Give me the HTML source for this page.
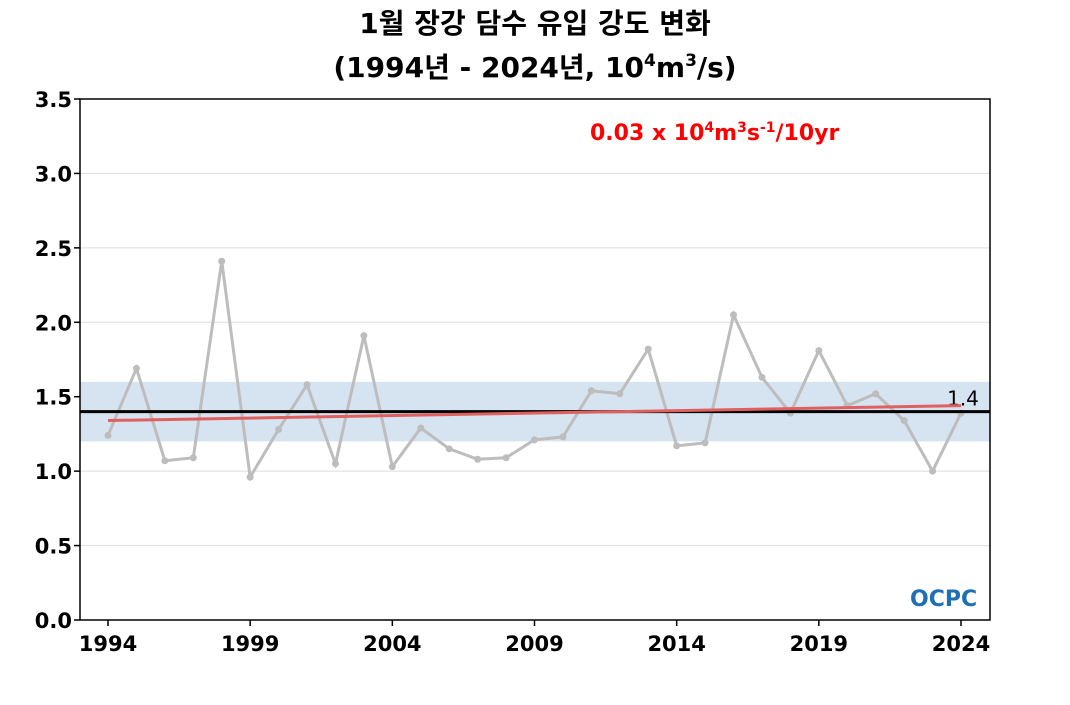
<!DOCTYPE html>
<html><head><meta charset="utf-8"><style>
body{margin:0;background:#fff;width:1070px;height:700px;overflow:hidden}
svg{font-family:"DejaVu Sans","Liberation Sans","Noto Sans CJK KR",sans-serif}
</style></head><body>
<svg id="c" width="1070" height="700"></svg>
<script>
const years=[1994,1995,1996,1997,1998,1999,2000,2001,2002,2003,2004,2005,2006,2007,2008,2009,2010,2011,2012,2013,2014,2015,2016,2017,2018,2019,2020,2021,2022,2023,2024];
const values=[1.24,1.69,1.07,1.09,2.41,0.96,1.28,1.58,1.05,1.91,1.03,1.29,1.15,1.08,1.09,1.21,1.23,1.54,1.52,1.82,1.17,1.19,2.05,1.63,1.39,1.81,1.44,1.52,1.34,1.00,1.39];
const yTicks=[0,0.5,1,1.5,2,2.5,3,3.5];
const xTicks=[1994,1999,2004,2009,2014,2019,2024];
const meanVal=[1.4];
const band=[1.2,1.6];
const trend=[1.34,1.44];
const NS="http://www.w3.org/2000/svg";
const svg=document.getElementById('c');
const L=80,R=990,T=99,B=620;
const x=v=>108+(v-1994)*(961-108)/30;
const y=v=>B-(v/3.5)*(B-T);
function mk(t,a,p){const e=document.createElementNS(NS,t);for(const k in a)e.setAttribute(k,a[k]);(p||svg).appendChild(e);return e;}
let t1=mk('text',{x:535,y:33,'text-anchor':'middle','font-size':28,'font-weight':'bold'});t1.textContent='1월 장강 담수 유입 강도 변화';


let t2=mk('text',{x:535,y:77,'text-anchor':'middle','font-size':28,'font-weight':'bold'});
t2.innerHTML='(1994년 - 2024년, 10<tspan dy="-11" font-size="17">4</tspan><tspan dy="11">m</tspan><tspan dy="-11" font-size="17">3</tspan><tspan dy="11">/s)</tspan>';


yTicks.forEach(v=>{
 if(v>0&&v<3.5){const g=mk('line',{x1:L,x2:R,y1:y(v),y2:y(v),stroke:'#ddd','stroke-width':1});
 
 }
 mk('line',{x1:L-6,x2:L,y1:y(v),y2:y(v),stroke:'#000','stroke-width':1.5});
 const tx=mk('text',{x:L-8,y:y(v)+8,'text-anchor':'end','font-size':21,'font-weight':'bold'});tx.textContent=v.toFixed(1);
 
 
});
xTicks.forEach(v=>{
 mk('line',{x1:x(v),x2:x(v),y1:B,y2:B+6,stroke:'#000','stroke-width':1.5});
 const tx=mk('text',{x:x(v),y:B+31,'text-anchor':'middle','font-size':21,'font-weight':'bold'});tx.textContent=v;
 
 
});
const bd=mk('rect',{x:L,y:y(band[1]),width:R-L,height:y(band[0])-y(band[1]),fill:'#d6e3f0'});


const pl=mk('polyline',{points:years.map((yr,i)=>x(yr)+','+y(values[i])).join(' '),fill:'none',stroke:'#bdbdbd','stroke-width':3});


years.forEach((yr,i)=>{const c=mk('circle',{cx:x(yr),cy:y(values[i]),r:3.5,fill:'#bdbdbd'});
 
 });
const ml=mk('line',{x1:L,x2:R,y1:y(meanVal[0]),y2:y(meanVal[0]),stroke:'#000','stroke-width':3});


const mt=mk('text',{x:963,y:y(meanVal[0])-6,'font-size':20,'text-anchor':'middle'});mt.textContent=meanVal[0].toFixed(1);


const tl=mk('line',{x1:x(1994),x2:x(2024),y1:y(trend[0]),y2:y(trend[1]),stroke:'#e06060','stroke-width':3});


const fr=mk('rect',{x:L,y:T,width:R-L,height:B-T,fill:'none',stroke:'#000','stroke-width':1.5});


const ta=mk('text',{x:590,y:140,'font-size':22,'font-weight':'bold',fill:'#f00'});
ta.innerHTML='0.03 x 10<tspan dy="-8" font-size="14">4</tspan><tspan dy="8">m</tspan><tspan dy="-8" font-size="14">3</tspan><tspan dy="8">s</tspan><tspan dy="-8" font-size="14">-1</tspan><tspan dy="8">/10yr</tspan>';


const lg=mk('text',{x:910,y:606,'font-size':22,'font-weight':'bold',fill:'#1f6fb5'});lg.textContent='OCPC';


</script>
</body></html>
